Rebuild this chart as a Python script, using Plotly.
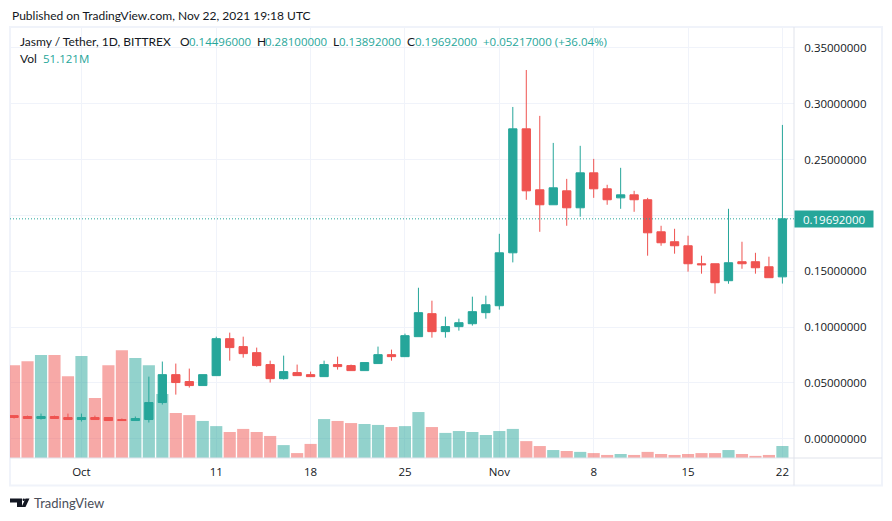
import pandas as pd
import plotly.graph_objects as go

W = 892
H = 521

# plot area in pixels
left, right, top, bottom = 10, 794, 27, 458.5

dates = pd.date_range("2021-09-26", "2021-11-22", freq="D")

opens = [.0207, .0199, .0181, .0199, .0190, .0172, .0190, .0190, .0172, .0163,
         .0172, .0324, .0574, .0512, .0476, .0565, .0896, .0825, .0771, .0664,
         .0538, .0592, .0574, .0556, .0664, .0655, .0610, .0673, .0753, .0735,
         .0914, .1120, .0959, .1004, .1030, .1129, .1191, .1665, .2775, .2229,
         .2095, .2220, .2068, .2381, .2238, .2157, .2184, .2140, .1853, .1764,
         .1728, .1567, .1567, .1415, .1585, .1585, .1540, .14496]
highs = [.0207, .0207, .0225, .0207, .0225, .0225, .0207, .0190, .0181, .0199,
         .0556, .0691, .0673, .0628, .0574, .0914, .0950, .0914, .0816, .0699,
         .0744, .0664, .0601, .0699, .0735, .0664, .0682, .0825, .0798, .0941,
         .1352, .1236, .1093, .1075, .1272, .1281, .1835, .2971, .3302, .2891,
         .2649, .2327, .2623, .2506, .2274, .2426, .2220, .2157, .1907, .1880,
         .1818, .1639, .1567, .2059, .1764, .1665, .1630, .28100]
lows = [.0181, .0181, .0172, .0181, .0172, .0154, .0172, .0163, .0163, .0163,
        .0145, .0306, .0395, .0458, .0476, .0565, .0699, .0726, .0646, .0503,
        .0530, .0565, .0556, .0556, .0619, .0610, .0610, .0673, .0699, .0735,
        .0914, .0905, .0905, .0968, .1013, .1075, .1156, .1579, .2140, .1853,
        .2095, .1907, .1988, .2157, .2095, .2059, .2032, .1639, .1728, .1657,
        .1496, .1478, .1299, .1388, .1522, .1478, .1442, .13892]
closes = [.0190, .0181, .0199, .0181, .0172, .0190, .0172, .0163, .0163, .0181,
          .0324, .0574, .0503, .0476, .0574, .0896, .0816, .0762, .0655, .0538,
          .0601, .0565, .0556, .0664, .0646, .0610, .0682, .0753, .0735, .0923,
          .1129, .0959, .1004, .1039, .1138, .1200, .1665, .2775, .2220, .2095,
          .2247, .2068, .2381, .2238, .2140, .2184, .2140, .1844, .1755, .1728,
          .1567, .1558, .1397, .1576, .1567, .1531, .1442, .19692]
# volume in millions
volumes = [396, 413, 439, 439, 349,
           435, 256, 396, 460, 426, 396, 273, 192, 183, 158, 136, 111, 124, 111, 94,
           55, 21, 60, 166, 158, 149, 145, 141, 132, 136, 196, 132, 107, 115, 111, 98,
           115, 124, 72, 51, 34, 30, 26, 21, 13, 17, 13, 26, 17, 13, 17, 21, 21, 34,
           17, 9, 13, 51.121]

x_ticks = ["2021-10-01", "2021-10-11", "2021-10-18", "2021-10-25",
           "2021-11-01", "2021-11-08", "2021-11-15", "2021-11-22"]
x_labels = ["Oct", "11", "18", "25", "Nov", "8", "15", "22"]
price_ticks = [0, .05, .10, .15, .20, .25, .30, .35]
# 0.20 sits behind the last price tag
price_labels = ["0.00000000", "0.05000000", "0.10000000", "0.15000000", "",
                "0.25000000", "0.30000000", "0.35000000"]
last_close = closes[-1]

UP = "#26a69a"
DOWN = "#ef5350"
UP_VOL = "rgba(38,166,154,0.5)"
DOWN_VOL = "rgba(239,83,80,0.5)"
GRID = "#f0f3fa"
AXIS = "#e0e3eb"
TEXT = "#131722"
FONT = "Lato"
# Lato digits run too wide, numbers use this instead
NUM_FONT = dict(family="Open Sans", size=11.5)


def px(x):
    return (x - left) / (right - left)


def py(y):
    return (bottom - y) / (bottom - top)


vol_colors = [UP_VOL if c >= o else DOWN_VOL for o, c in zip(opens, closes)]

fig = go.Figure()
fig.add_trace(go.Bar(x=dates, y=volumes, marker_color=vol_colors, marker_line_width=0,
                     yaxis="y", hoverinfo="skip"))
fig.add_trace(go.Candlestick(x=dates, open=opens, high=highs, low=lows, close=closes,
                             yaxis="y2", whiskerwidth=0,
                             increasing=dict(line=dict(color=UP, width=1), fillcolor=UP),
                             decreasing=dict(line=dict(color=DOWN, width=1), fillcolor=DOWN)))

shapes = [
    # outer frame
    dict(type="rect", xref="paper", yref="paper", x0=px(10), x1=px(882), y0=py(486), y1=py(27),
         line=dict(color=GRID, width=2), layer="below"),
    # price scale and time scale borders
    dict(type="line", xref="paper", yref="paper", x0=px(794), x1=px(794), y0=py(486), y1=py(27),
         line=dict(color=AXIS, width=1)),
    dict(type="line", xref="paper", yref="paper", x0=px(10), x1=px(882), y0=py(458.5), y1=py(458.5),
         line=dict(color=AXIS, width=1)),
    # last price line
    dict(type="line", xref="paper", yref="y2", x0=0, x1=1, y0=last_close, y1=last_close,
         line=dict(color=UP, width=1, dash="1px,2px")),
    # logo
    dict(type="path", xref="paper", yref="paper", fillcolor=TEXT, line_width=0,
         path="M %f %f L %f %f L %f %f L %f %f L %f %f L %f %f Z" % (
             px(10), py(499), px(22), py(499), px(22), py(507.5), px(17), py(507.5), px(17), py(503), px(10), py(503))),
    dict(type="circle", xref="paper", yref="paper", fillcolor=TEXT, line_width=0,
         x0=px(22.5), x1=px(25), y0=py(501.5), y1=py(499)),
    dict(type="path", xref="paper", yref="paper", fillcolor=TEXT, line_width=0,
         path="M %f %f L %f %f L %f %f L %f %f Z" % (
             px(25.5), py(499), px(29.5), py(499), px(25.5), py(507.5), px(21.5), py(507.5))),
]

annotations = [
    dict(text="Published on TradingView.com, Nov 22, 2021 19:18 UTC", x=px(10), y=py(15),
         font=dict(size=12, color=TEXT)),
    dict(text="Jasmy / Tether, 1D, BITTREX", x=px(18), y=py(42), font=dict(size=12, color=TEXT)),
    dict(text="O", x=px(178), y=py(42), font=dict(size=12, color=TEXT)),
    dict(text="0.14496000", x=px(187), y=py(42), font=dict(color=UP, **NUM_FONT)),
    dict(text="H", x=px(255), y=py(42), font=dict(size=12, color=TEXT)),
    dict(text="0.28100000", x=px(263), y=py(42), font=dict(color=UP, **NUM_FONT)),
    dict(text="L", x=px(331), y=py(42), font=dict(size=12, color=TEXT)),
    dict(text="0.13892000", x=px(337), y=py(42), font=dict(color=UP, **NUM_FONT)),
    dict(text="C", x=px(405), y=py(42), font=dict(size=12, color=TEXT)),
    dict(text="0.19692000", x=px(413), y=py(42), font=dict(color=UP, **NUM_FONT)),
    dict(text="+0.05217000 (+36.04%)", x=px(481), y=py(42), font=dict(color=UP, **NUM_FONT)),
    dict(text="Vol", x=px(18), y=py(59), font=dict(size=12, color=TEXT)),
    dict(text="51.121M", x=px(41), y=py(59), font=dict(color=UP, **NUM_FONT)),
    dict(text="TradingView", x=px(32), y=py(503.5), font=dict(size=13, color="#4a4e59")),
]
for a in annotations:
    a.update(xref="paper", yref="paper", xanchor="left", yanchor="middle", showarrow=False)
annotations.append(dict(text="%.8f" % last_close, xref="paper", yref="y2", x=1, y=last_close,
                        xanchor="left", yanchor="middle", showarrow=False, width=76, height=14,
                        align="center", bgcolor=UP, borderpad=1,
                        font=dict(color="white", **NUM_FONT)))

fig.update_layout(
    width=W, height=H,
    margin=dict(l=left, r=W - right, t=top, b=H - bottom, pad=0),
    paper_bgcolor="white", plot_bgcolor="white",
    showlegend=False, bargap=0.1, boxgap=0.12,
    font=dict(family=FONT, size=12, color=TEXT),
    xaxis=dict(type="date", range=["2021-09-25 16:48", "2021-11-22 20:38"],
               tickvals=x_ticks, ticktext=x_labels, tickangle=0,
               showgrid=True, gridcolor=GRID, gridwidth=1, zeroline=False, showline=False,
               ticks="outside", ticklen=3, tickcolor="rgba(0,0,0,0)",
               rangeslider=dict(visible=False), tickfont=dict(color=TEXT, **NUM_FONT)),
    yaxis=dict(range=[0, 1838], visible=False, showgrid=False, zeroline=False),
    yaxis2=dict(overlaying="y", side="right", range=[-0.01726, 0.3687],
                tickvals=price_ticks, ticktext=price_labels,
                showgrid=True, gridcolor=GRID, gridwidth=1, zeroline=False, showline=False,
                ticks="outside", ticklen=7, tickcolor="rgba(0,0,0,0)",
                tickfont=dict(color=TEXT, **NUM_FONT)),
    shapes=shapes, annotations=annotations,
)

fig.write_html("out.html", config=dict(displayModeBar=False),
               post_script="document.body.style.margin='0';document.body.style.overflow='hidden';")
